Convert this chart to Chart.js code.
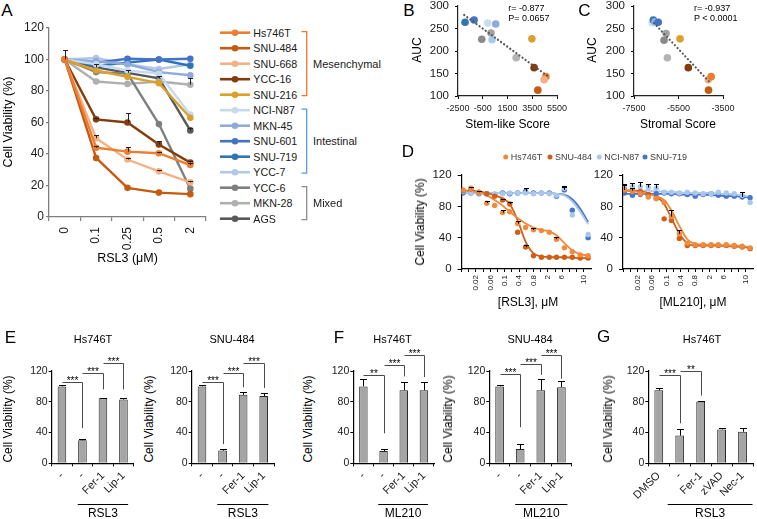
<!DOCTYPE html>
<html><head><meta charset="utf-8">
<script src="https://cdn.jsdelivr.net/npm/chart.js@4.4.1/dist/chart.umd.min.js"></script>
<style>
html,body{margin:0;padding:0;background:#fff}
body{width:757px;height:519px;position:relative;overflow:hidden;font-family:"Liberation Sans",Arial,Helvetica,sans-serif;color:#000}
canvas{position:absolute}
.t{position:absolute;white-space:nowrap;line-height:1}
#ov{position:absolute;left:0;top:0}
</style></head><body>
<svg id="ov" width="757" height="519" xmlns="http://www.w3.org/2000/svg"></svg>
<script>
// ================= DATA =================
// Panel A
const doseA = ['0', '0.1', '0.25', '0.5', '2'];
const linesA = ['Hs746T','SNU-484','SNU-668','YCC-16','SNU-216','NCI-N87','MKN-45','SNU-601','SNU-719','YCC-7','YCC-6','MKN-28','AGS'];
const hs746tA = [100, 44, 41.5, 40.5, 33];
const snu484A = [100, 37.5, 18.5, 15.5, 14.5];
const snu668A = [100, 50, 36.5, 29, 22];
const ycc16A  = [100, 62, 60, 46, 34.5];
const snu216A = [100, 93, 89, 85, 63];
const ncin87A = [100, 97, 93, 91, 65];
const mkn45A  = [100, 99, 97, 92, 90];
const snu601A = [100, 98, 100.5, 100, 100.5];
const snu719A = [100, 96, 98, 100, 96];
const ycc7A   = [100, 101, 97, 94, 97];
const ycc6A   = [100, 92, 91, 59, 18];
const mkn28A  = [100, 86, 84.5, 86, 84];
const agsA    = [100, 95, 91.5, 88, 55];
const errAgsA   = [6, 2, 2, 1.5, 1.5];
const errYcc16A = [0, 1, 6, 2, 1];
const errHsA    = [0, 1, 3, 1, 1];
const errS668A  = [0, 2, 1, 1, 1];
const errMkn28A = [0, 0, 0, 0, 4];
const groupsA = [['Mesenchymal', 0, 4], ['Intestinal', 5, 9], ['Mixed', 10, 12]];

// Panel B / C
const cellsB = ['SNU-719','SNU-601','NCI-N87','MKN-45','AGS','YCC-6','YCC-7','MKN-28','SNU-216','YCC-16','Hs746T','SNU-668','SNU-484'];
const stemScore = [-1930, -1200, -100, 550, -580, 170, 250, 2200, 3470, 3650, 4600, 4460, 3950];
const aucB      = [264, 269, 262, 260, 226, 240, 225, 185, 227, 163, 143, 136, 113];
const trendB    = [{x: -2000, y: 280}, {x: 4800, y: 143}];
const ticksBx   = [-2500, -500, 1500, 3500, 5500];
const cellsC = ['NCI-N87','SNU-719','MKN-45','SNU-601','AGS','YCC-6','MKN-28','SNU-216','YCC-16','SNU-668','Hs746T','SNU-484'];
const stromalScore = [-6680, -6630, -6560, -6410, -6150, -6060, -6000, -5430, -5060, -4160, -4030, -4150];
const aucC         = [263, 269, 265, 264, 224, 239, 185, 227, 163, 136, 143, 113];
const trendC       = [{x: -6600, y: 262}, {x: -4050, y: 128}];
const ticksCx      = [-7500, -5500, -3500];
const statB = ['r= -0.877', 'P= 0.0657'];
const statC = ['r= -0.937', 'P < 0.0001'];

// Panel D (x in tick units of the dilution axis)
const tickLabelsD = ['', '', '0.02', '', '0.06', '', '0.1', '', '0.4', '', '0.8', '', '2', '', '6', '', '', '10'];
const ptX = [0.2, 1.3, 2.4, 3.5, 4.6, 5.7, 6.7, 7.8, 8.9, 10, 11.1, 12.2, 13.2, 14.3, 15.4, 16.5, 17.6];
const hsL     = [101, 103, 98, 84, 81, 72, 73, 58, 53, 50, 49, 47, 38, 27, 22, 18, 17];
const snu484L = [100, 102, 98, 96, 93, 88, 83, 47, 28, 17, 15, 15, 15, 15, 15, 14, 14];
const n87L    = [99, 97, 97, 96, 96, 96, 97, 97, 97, 96, 97, 96, 94, 103, 69, null, 44];
const snu719L = [97, 97, 96, 96, 95, 97, 96, 97, 99, 97, 97, 97, 93, 101, 75, null, 40];
const fitHsL     = [100, 99, 98, 94, 88, 81, 73, 65, 58, 53, 50, 48, 43, 33, 24, 19, 17];
const fitSnu484L = [100, 100, 99, 97, 94, 90, 83, 62, 35, 20, 16, 15, 15, 15, 14.5, 14, 14];
const fitN87L    = [97, 97, 97, 97, 97, 97, 97, 97, 97, 97, 97, 97, 96, 94, 86, 73, 57];
const fit719L    = [97, 97, 97, 97, 97, 97, 97, 97, 97, 97, 97, 97, 96, 95, 89, 77, 60];
const errHsL  = [0, 2, 0, 3, 0, 3, 0, 3, 0, 2, 0, 0, 3, 0, 0, 0, 0];
const errSnuL = [0, 0, 2, 0, 0, 2, 3, 0, 3, 0, 0, 0, 0, 0, 0, 0, 0];
const errN87L = [0, 0, 0, 0, 0, 0, 0, 0, 0, 0, 0, 0, 0, 3, 0, 0, 0];
const err719L = [0, 0, 0, 0, 0, 0, 0, 0, 4, 0, 0, 0, 0, 4, 0, 0, 0];
const hsR     = [101, 99, 96, 92, 90, 85, 67, 45, 33, 31, 31, 31, 31, 31, 30, 29, 27];
const snu484R = [101, 100, 99, 95, 90, 64, 62, 39, 30, 30, 30, 30, 30, 30, 29, 28, 26];
const n87R    = [104, 105, 105, 104, 103, 98, 98, 97, 98, 97, 96, 96, 98, 97, 96, 94, 85];
const snu719R = [97, 94, 95, 95, 96, 97, 96, 96, 95, 93, 95, 96, 94, 93, 93, 92, 91];
const fitHsR     = [100, 99, 98, 96, 93, 88, 75, 55, 38, 32, 31, 31, 31, 30, 30, 29, 28];
const fitSnu484R = [100, 100, 99, 97, 93, 83, 65, 45, 33, 30, 30, 30, 30, 29, 29, 28, 27];
const fitN87R    = [101, 101, 100, 100, 99, 99, 98, 98, 97, 97, 97, 97, 96, 96, 95, 94, 92];
const fit719R    = [96, 96, 96, 96, 96, 96, 96, 95, 95, 95, 95, 94, 94, 93, 93, 92, 91];
const errHsR  = [6, 0, 0, 0, 0, 0, 8, 5, 0, 0, 0, 0, 0, 0, 0, 0, 0];
const errSnuR = [0, 3, 0, 0, 0, 0, 0, 0, 0, 0, 0, 0, 0, 0, 0, 0, 0];
const errN87R = [5, 5, 6, 5, 5, 0, 0, 0, 0, 0, 0, 0, 0, 0, 0, 0, 0];
const err719R = [0, 0, 0, 0, 0, 0, 0, 0, 0, 0, 0, 0, 0, 0, 0, 6, 0];
const legendD = ['Hs746T', 'SNU-484', 'NCI-N87', 'SNU-719'];

// Panels E / F / G
const catE = ['-', '-', 'Fer-1', 'Lip-1'];
const catG = ['DMSO', '-', 'Fer-1', 'zVAD', 'Nec-1'];
const e1Vals = [100, 30, 84.5, 83],   e1Err = [2, 1, 0.5, 2.5];
const e2Vals = [100, 16.5, 89, 87.5], e2Err = [2, 2, 3.5, 4.5];
const f1Vals = [100, 16, 95, 95],     f1Err = [10, 3, 11, 10.5];
const f2Vals = [100, 18.5, 95, 99],   f2Err = [2, 6, 14, 7.5];
const gVals  = [95, 36, 80.5, 44, 41], gErr = [3, 9, 1, 2, 5];
// significance brackets: [from bar, to bar, line level, drop level, label]
const e1Sig = [[0,1,105.5,46,'***'], [1,2,118,96,'***'], [2,3,131,96,'***']];
const e2Sig = [[0,1,105.5,25,'***'], [1,2,118,99,'***'], [2,3,131,98,'***']];
const f1Sig = [[0,1,115,39,'**'], [1,2,128,113,'***'], [2,3,141,112,'***']];
const f2Sig = [[0,1,116.5,47,'***'], [1,2,128.5,115,'***'], [2,3,141,110,'***']];
const gSig  = [[0,1,114.8,52,'***'], [1,2,120.5,88,'**']];

// ================= STYLE =================
const FONT = '"Liberation Sans", Arial, Helvetica, sans-serif';
const col = {
  'Hs746T':'#ED7D31','SNU-484':'#C55A11','SNU-668':'#F4B183','YCC-16':'#843C0C','SNU-216':'#DBA02C',
  'NCI-N87':'#C5DAF0','MKN-45':'#8FAADC','SNU-601':'#4472C4','SNU-719':'#2E75B6','YCC-7':'#B4C7E7',
  'YCC-6':'#7F7F7F','MKN-28':'#B0B0B0','AGS':'#595959'
};
const scol = Object.assign({}, col, {'AGS':'#8A8A8A','YCC-6':'#A2A2A2','MKN-28':'#B4B4B4','NCI-N87':'#C9DDF2','YCC-7':'#A9CBEA'});
const dcol = {'Hs746T':'#F08A3C','SNU-484':'#CF5F17','NCI-N87':'#A9C8EC','SNU-719':'#4675CF'};
const groupCol = ['#F4782C', '#5B9BD5', '#8C8C8C'];

Chart.defaults.font.family = FONT;
Chart.defaults.color = '#000';
Chart.defaults.animation = false;
Chart.defaults.plugins.legend.display = false;
Chart.defaults.plugins.tooltip.enabled = false;

// ---------- plugins ----------
Chart.register({
  id: 'errbars',
  afterDatasetsDraw(chart) {
    const ctx = chart.ctx, ys = chart.scales.y;
    chart.data.datasets.forEach((ds, di) => {
      if (!ds.err) return;
      const meta = chart.getDatasetMeta(di);
      ctx.save();
      ctx.strokeStyle = ds.errColor || '#000';
      ctx.lineWidth = 1;
      meta.data.forEach((el, i) => {
        const e = ds.err[i]; if (!e) return;
        const raw = ds.data[i];
        const v = (raw && typeof raw === 'object') ? raw.y : raw;
        if (v == null) return;
        const x = Math.round(el.x) + 0.5, y0 = ys.getPixelForValue(v), y1 = Math.round(ys.getPixelForValue(v + e)) + 0.5;
        const cw = (ds.errCap || 6) / 2;
        ctx.beginPath(); ctx.moveTo(x, y0); ctx.lineTo(x, y1);
        ctx.moveTo(x - cw, y1); ctx.lineTo(x + cw, y1); ctx.stroke();
      });
      ctx.restore();
    });
  }
});
Chart.register({
  id: 'sig',
  afterDraw(chart, args, o) {
    if (!o || !o.items) return;
    const ctx = chart.ctx, xs = chart.scales.x, ys = chart.scales.y;
    ctx.save();
    ctx.strokeStyle = '#4a4a4a'; ctx.lineWidth = 1; ctx.fillStyle = '#000';
    ctx.font = '10px ' + FONT; ctx.textAlign = 'center'; ctx.textBaseline = 'alphabetic';
    o.items.forEach(([a, b, top, drop, txt]) => {
      const x1 = Math.round(xs.getPixelForValue(a)) + 0.5, x2 = Math.round(xs.getPixelForValue(b)) + 0.5;
      const yt = Math.round(ys.getPixelForValue(top)) + 0.5, yd = ys.getPixelForValue(drop);
      ctx.beginPath(); ctx.moveTo(x1, yt); ctx.lineTo(x2, yt); ctx.lineTo(x2, yd); ctx.stroke();
      ctx.fillText(txt, (x1 + x2) / 2, yt + 1.5);
    });
    ctx.restore();
  }
});
Chart.register({
  id: 'grp',
  afterDraw(chart, args, o) {
    if (!o || !o.text) return;
    const ctx = chart.ctx, xs = chart.scales.x;
    const xa = xs.getPixelForValue(o.from) - o.padL, xb = xs.getPixelForValue(o.to) + o.padR;
    const yy = Math.round(chart.chartArea.bottom + o.dy) + 0.5;
    ctx.save();
    ctx.strokeStyle = '#000'; ctx.lineWidth = 1;
    ctx.beginPath(); ctx.moveTo(xa, yy); ctx.lineTo(xb, yy); ctx.stroke();
    ctx.fillStyle = '#000'; ctx.font = '12px ' + FONT; ctx.textAlign = 'center'; ctx.textBaseline = 'middle';
    ctx.fillText(o.text, (xa + xb) / 2, yy + 9.5);
    ctx.restore();
  }
});

// ---------- helpers ----------
function mount(box, area, config) {
  const c = document.createElement('canvas');
  c.width = box[2]; c.height = box[3];
  c.style.left = box[0] + 'px'; c.style.top = box[1] + 'px';
  c.style.width = box[2] + 'px'; c.style.height = box[3] + 'px';
  document.body.appendChild(c);
  const o = config.options;
  o.responsive = false; o.animation = false; o.devicePixelRatio = 1;
  o.layout = {autoPadding: false, padding: {left: 0, top: area[1] - box[1], right: box[0] + box[2] - area[2], bottom: 0}};
  const zero = s => { s.paddingLeft = 0; s.paddingRight = 0; s.paddingTop = 0; s.paddingBottom = 0; };
  const fx = o.scales.x.afterFit, fy = o.scales.y.afterFit;
  o.scales.x.afterFit = s => { s.height = box[1] + box[3] - area[3]; zero(s); };
  o.scales.y.afterFit = s => { s.width = area[0] - box[0]; zero(s); };
  return new Chart(c.getContext('2d'), config);
}
function T(s, x, y, size, o) {
  o = o || {};
  const d = document.createElement('div');
  d.className = 't'; d.textContent = s;
  d.style.fontSize = size + 'px'; d.style.left = x + 'px'; d.style.top = y + 'px';
  let tr = o.a === 'l' ? 'translate(0,-50%)' : 'translate(-50%,-50%)';
  if (o.rot) tr += ' rotate(' + o.rot + 'deg)';
  d.style.transform = tr;
  if (o.c) d.style.color = o.c;
  document.body.appendChild(d);
}
const svg = document.getElementById('ov');
function S(tag, attrs) {
  const e = document.createElementNS('http://www.w3.org/2000/svg', tag);
  for (const k in attrs) e.setAttribute(k, attrs[k]);
  svg.appendChild(e);
}
const axisBlack = (tl) => ({display: true, drawOnChartArea: false, drawTicks: true, tickLength: tl, color: '#000', lineWidth: 1});

// ================= PANEL A =================
const valsA = {'Hs746T': hs746tA, 'SNU-484': snu484A, 'SNU-668': snu668A, 'YCC-16': ycc16A, 'SNU-216': snu216A,
  'NCI-N87': ncin87A, 'MKN-45': mkn45A, 'SNU-601': snu601A, 'SNU-719': snu719A, 'YCC-7': ycc7A,
  'YCC-6': ycc6A, 'MKN-28': mkn28A, 'AGS': agsA};
const errA = {'AGS': errAgsA, 'YCC-16': errYcc16A, 'Hs746T': errHsA, 'SNU-668': errS668A, 'MKN-28': errMkn28A};
mount([14, 20, 200, 245], [49, 28, 206, 217], {
  type: 'line',
  data: {labels: doseA, datasets: linesA.map(n => ({
    label: n, data: valsA[n], err: errA[n], errCap: 5, errColor: '#222',
    borderColor: col[n], backgroundColor: col[n], pointBackgroundColor: col[n], pointBorderColor: col[n],
    borderWidth: 2.4, pointRadius: 3.3, pointBorderWidth: 0, tension: 0
  }))},
  options: {scales: {
    x: {type: 'category', offset: true,
        grid: {display: true, offset: true, drawOnChartArea: false, tickLength: 4, color: '#7f7f7f', lineWidth: 1.2},
        border: {color: '#7f7f7f', width: 1.3},
        ticks: {minRotation: 90, maxRotation: 90, autoSkip: false, padding: 6, font: {size: 12}, color: '#1a1a1a'}},
    y: {min: 0, max: 120,
        ticks: {stepSize: 20, padding: 2, font: {size: 12}, color: '#1a1a1a'},
        grid: {display: true, drawOnChartArea: false, tickLength: 3, color: '#7f7f7f', lineWidth: 1.2},
        border: {color: '#7f7f7f', width: 1.3}}
  }}
});
T('A', 7, 9.5, 17);
T('Cell Viability (%)', 7.5, 122, 12.5, {rot: -90});
T('RSL3 (μM)', 127.5, 258, 12.5);
// legend
const legY0 = 32.7, legDy = 15.5;
linesA.forEach((n, i) => {
  const y = legY0 + i * legDy;
  S('line', {x1: 220, y1: y, x2: 250, y2: y, stroke: col[n], 'stroke-width': 2.6});
  S('circle', {cx: 235, cy: y, r: 3.3, fill: col[n]});
  T(n, 253.3, y, 10.7, {a: 'l', c: '#1a1a1a'});
});
groupsA.forEach(([name, a, b], gi) => {
  const y1 = legY0 + a * legDy - 1, y2 = legY0 + b * legDy + 1;
  S('path', {d: `M301.5 ${y1} H306.7 V${y2} H301.5`, fill: 'none', stroke: groupCol[gi], 'stroke-width': 1.3});
  T(name, 313, (y1 + y2) / 2, 11, {a: 'l', c: '#1a1a1a'});
});

// ================= PANEL B / C =================
function scatterPanel(box, area, xs, ys, cells, trend, xmin, xmax, xticks) {
  return mount(box, area, {
    type: 'scatter',
    data: {datasets: [
      {type: 'line', data: trend, borderColor: '#5a5a5a', borderWidth: 2.2, borderDash: [0.1, 3.7], borderCapStyle: 'round', pointRadius: 0, fill: false},
      {data: xs.map((v, i) => ({x: v, y: ys[i]})), pointRadius: 3.8, pointBorderWidth: 0,
       pointBackgroundColor: cells.map(c => scol[c]), backgroundColor: cells.map(c => scol[c])}
    ]},
    options: {scales: {
      x: {type: 'linear', min: xmin, max: xmax,
          afterBuildTicks: s => { s.ticks = xticks.map(v => ({value: v})); },
          ticks: {callback: v => String(v), padding: 4, font: {size: 9}, autoSkip: false, maxRotation: 0, color: '#1a1a1a'},
          grid: axisBlack(3), border: {color: '#222', width: 1.2}},
      y: {type: 'linear', min: 100, max: 300,
          ticks: {stepSize: 50, callback: v => String(v), padding: 6, font: {size: 11.5}, color: '#1a1a1a'},
          grid: axisBlack(3), border: {color: '#222', width: 1.2}}
    }}
  });
}
scatterPanel([420, 0, 155, 140], [458, 6, 557, 96], stemScore, aucB, cellsB, trendB, -2500, 5500, ticksBx);
scatterPanel([600, 0, 150, 140], [634, 6, 723, 96], stromalScore, aucC, cellsC, trendC, -7500, -3500, ticksCx);
T('B', 409, 10, 17);
T('AUC', 417, 50, 12, {rot: -90});
T('Stem-like Score', 507.5, 124, 12);
T(statB[0], 508.3, 7.5, 9, {a: 'l'});
T(statB[1], 508.3, 17.5, 9, {a: 'l'});
T('C', 584.5, 9.5, 17);
T('AUC', 591.5, 50, 12, {rot: -90});
T('Stromal Score', 678, 124, 12);
T(statC[0], 694, 7.5, 9, {a: 'l'});
T(statC[1], 694, 17.5, 9, {a: 'l'});

// ================= PANEL D =================
function dPanel(box, area, series) {
  const pts = series.map(s => ({data: ptX.map((x, i) => ({x: x, y: s.v[i]})), err: s.e, errCap: 5, errColor: '#000',
    showLine: false, pointRadius: 2.7, pointBorderWidth: 0, pointBackgroundColor: dcol[s.n], borderColor: dcol[s.n], backgroundColor: dcol[s.n]}));
  const fits = series.map(s => ({data: ptX.map((x, i) => ({x: x, y: s.f[i]})), borderColor: dcol[s.n], borderWidth: 1.8,
    pointRadius: 0, cubicInterpolationMode: 'monotone', fill: false}));
  return mount(box, area, {
    type: 'line',
    data: {datasets: pts.concat(fits)},
    options: {scales: {
      x: {type: 'linear', min: 0, max: 18,
          afterBuildTicks: s => { s.ticks = tickLabelsD.map((_, i) => ({value: i})); },
          ticks: {callback: v => tickLabelsD[v] || '', autoSkip: false, minRotation: 90, maxRotation: 90, padding: 3, font: {size: 8}, color: '#1a1a1a'},
          grid: axisBlack(3), border: {color: '#000', width: 1.2}},
      y: {min: 0, max: 120,
          ticks: {stepSize: 20, padding: 6, font: {size: 11.5}, color: '#1a1a1a'},
          grid: axisBlack(4), border: {color: '#000', width: 1.2}}
    }}
  });
}
dPanel([425, 165, 167, 145], [461.6, 175, 591, 269], [
  {n: 'Hs746T', v: hsL, f: fitHsL, e: errHsL},
  {n: 'SNU-484', v: snu484L, f: fitSnu484L, e: errSnuL},
  {n: 'NCI-N87', v: n87L, f: fitN87L, e: errN87L},
  {n: 'SNU-719', v: snu719L, f: fit719L, e: err719L}
]);
dPanel([592, 165, 165, 145], [623, 175, 753, 269], [
  {n: 'Hs746T', v: hsR, f: fitHsR, e: errHsR},
  {n: 'SNU-484', v: snu484R, f: fitSnu484R, e: errSnuR},
  {n: 'NCI-N87', v: n87R, f: fitN87R, e: errN87R},
  {n: 'SNU-719', v: snu719R, f: fit719R, e: err719R}
]);
T('D', 408, 151, 17);
T('Cell Viability (%)', 420, 222, 12, {rot: -90});
T('[RSL3], μM', 528, 302, 12);
T('[ML210], μM', 693, 302, 12);
const legDX = [505.7, 550, 599.3, 645];
legendD.forEach((n, i) => {
  S('circle', {cx: legDX[i], cy: 157, r: 2.5, fill: dcol[n]});
  T(n, legDX[i] + 5, 157, 9, {a: 'l', c: '#404040'});
});

// ================= PANELS E / F / G =================
function barPanel(box, area, labels, vals, err, sig, grp) {
  return mount(box, area, {
    type: 'bar',
    data: {labels: labels, datasets: [{data: vals, err: err, errCap: 7, errColor: '#000',
      backgroundColor: '#A5A5A5', borderColor: '#262626', borderWidth: 1, barPercentage: 0.42, categoryPercentage: 1}]},
    options: {
      plugins: {sig: {items: sig}, grp: grp},
      scales: {
        x: {grid: Object.assign(axisBlack(3), {offset: true}), border: {color: '#000', width: 1.2},
            ticks: {minRotation: 45, maxRotation: 45, autoSkip: false, padding: 3, font: {size: 11}, color: '#1a1a1a'}},
        y: {min: 0, max: 120, ticks: {stepSize: 20, padding: 1, font: {size: 10.5}, color: '#1a1a1a'},
            grid: axisBlack(3), border: {color: '#000', width: 1.2}}
      }
    }
  });
}
barPanel([18, 335, 122, 184], [51.7, 371, 133.7, 463.3], catE, e1Vals, e1Err, e1Sig, {text: 'RSL3', from: 1, to: 3, padL: 4.7, padR: 4.7, dy: 40.7});
barPanel([160, 335, 122, 184], [191.7, 371, 274, 463.3], catE, e2Vals, e2Err, e2Sig, {text: 'RSL3', from: 1, to: 3, padL: 5.3, padR: 4.7, dy: 40.7});
barPanel([320, 335, 122, 184], [353.3, 371, 434, 463.3], catE, f1Vals, f1Err, f1Sig, {text: 'ML210', from: 1, to: 3, padL: 5.3, padR: 4, dy: 40.7});
barPanel([456, 335, 122, 184], [489.3, 371, 571.7, 463.3], catE, f2Vals, f2Err, f2Sig, {text: 'ML210', from: 1, to: 3, padL: 5, padR: 6, dy: 40.7});
barPanel([614, 335, 143, 184], [648.3, 371, 753, 463.3], catG, gVals, gErr, gSig, {text: 'RSL3', from: 1, to: 4, padL: 12, padR: 10, dy: 40.7});
T('E', 10.5, 337, 17);
T('F', 339, 337, 17);
T('G', 603.5, 336, 17);
T('Hs746T', 93, 339, 11);
T('SNU-484', 232, 339, 11);
T('Hs746T', 392.5, 338.5, 11);
T('SNU-484', 530, 338.5, 11);
T('Hs746T', 702, 338.5, 11);
T('Cell Viability (%)', 8, 419, 12, {rot: -90});
T('Cell Viability (%)', 148.7, 419, 12, {rot: -90});
T('Cell Viability (%)', 308.3, 419, 12, {rot: -90});
T('Cell Viability (%)', 448.3, 419, 12, {rot: -90});
T('Cell Viability (%)', 607.5, 419, 12, {rot: -90});
</script>
</body></html>
